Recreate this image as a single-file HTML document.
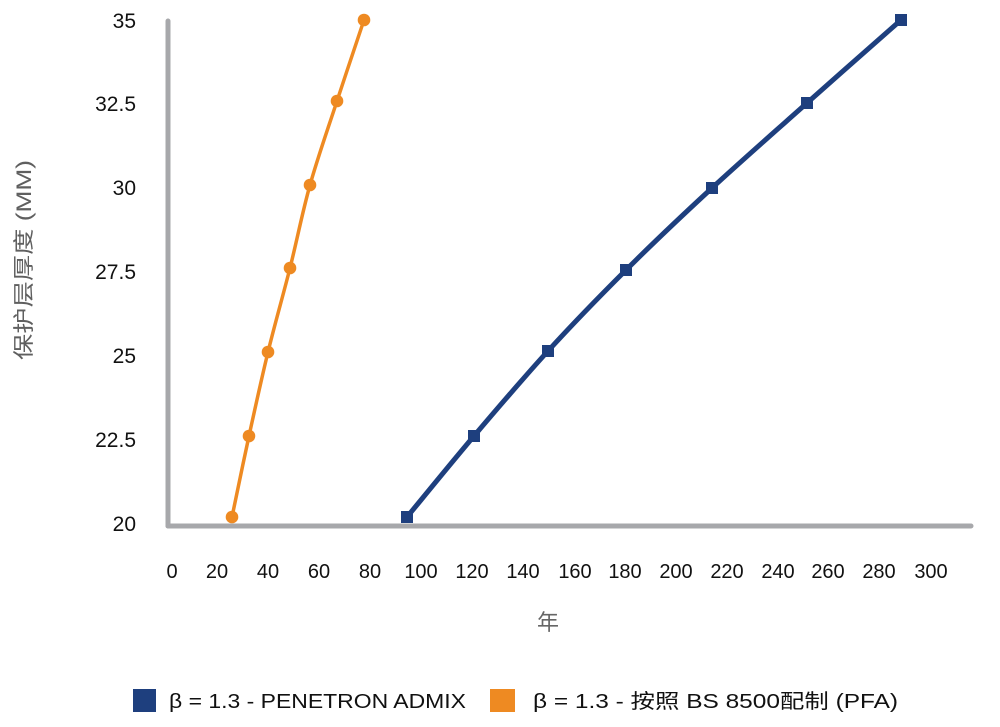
<!DOCTYPE html>
<html>
<head>
<meta charset="utf-8">
<style>
  html,body{margin:0;padding:0;background:#fff;}
  svg{display:block;}
  text{font-family:"Liberation Sans","Noto Sans CJK SC",sans-serif;}
</style>
</head>
<body>
<svg width="1000" height="727" viewBox="0 0 1000 727" xmlns="http://www.w3.org/2000/svg">
  <rect width="1000" height="727" fill="#fff"/>

  <!-- axes -->
  <line x1="168" y1="21" x2="168" y2="526" stroke="#a7a8ab" stroke-width="5" stroke-linecap="round"/>
  <line x1="168" y1="526" x2="971" y2="526" stroke="#a7a8ab" stroke-width="5" stroke-linecap="round"/>

  <!-- y tick labels -->
  <g font-size="21" fill="#111" text-anchor="end">
    <text x="136" y="28">35</text>
    <text x="136" y="111">32.5</text>
    <text x="136" y="195">30</text>
    <text x="136" y="279">27.5</text>
    <text x="136" y="363">25</text>
    <text x="136" y="447">22.5</text>
    <text x="136" y="531">20</text>
  </g>

  <!-- x tick labels -->
  <g font-size="20" fill="#111" text-anchor="middle">
    <text x="172" y="578">0</text>
    <text x="217" y="578">20</text>
    <text x="268" y="578">40</text>
    <text x="319" y="578">60</text>
    <text x="370" y="578">80</text>
    <text x="421" y="578">100</text>
    <text x="472" y="578">120</text>
    <text x="523" y="578">140</text>
    <text x="575" y="578">160</text>
    <text x="625" y="578">180</text>
    <text x="676" y="578">200</text>
    <text x="727" y="578">220</text>
    <text x="778" y="578">240</text>
    <text x="828" y="578">260</text>
    <text x="879" y="578">280</text>
    <text x="931" y="578">300</text>
  </g>

  <!-- axis titles -->
  <text x="548" y="630" font-size="22" fill="#666" text-anchor="middle">年</text>
  <text transform="translate(31,260) rotate(-90)" font-size="21" fill="#5f5f5f" text-anchor="middle" textLength="200" lengthAdjust="spacingAndGlyphs">保护层厚度 (MM)</text>

  <!-- orange series -->
  <path d="M232,517 C234.8,503.5 243,463.5 249,436 C255,408.5 261.2,380 268,352 C274.8,324 283,295.8 290,268 C297,240.2 302.2,212.8 310,185 C317.8,157.2 328,128.5 337,101 C346,73.5 359.5,33.5 364,20"
        fill="none" stroke="#ee8a22" stroke-width="3.5" stroke-linejoin="round"/>
  <g fill="#ee8a22">
    <circle cx="232" cy="517" r="6.3"/>
    <circle cx="249" cy="436" r="6.3"/>
    <circle cx="268" cy="352" r="6.3"/>
    <circle cx="290" cy="268" r="6.3"/>
    <circle cx="310" cy="185" r="6.3"/>
    <circle cx="337" cy="101" r="6.3"/>
    <circle cx="364" cy="20" r="6.3"/>
  </g>

  <!-- blue series -->
  <path d="M407,517 C418.2,503.5 450.5,463.7 474,436 C497.5,408.3 522.7,378.7 548,351 C573.3,323.3 598.7,297.2 626,270 C653.3,242.8 681.8,215.8 712,188 C742.2,160.2 775.5,131 807,103 C838.5,75 885.3,33.8 901,20"
        fill="none" stroke="#1e3f7e" stroke-width="5" stroke-linejoin="round"/>
  <g fill="#1e3f7e">
    <rect x="401" y="511" width="12" height="12"/>
    <rect x="468" y="430" width="12" height="12"/>
    <rect x="542" y="345" width="12" height="12"/>
    <rect x="620" y="264" width="12" height="12"/>
    <rect x="706" y="182" width="12" height="12"/>
    <rect x="801" y="97" width="12" height="12"/>
    <rect x="895" y="14" width="12" height="12"/>
  </g>

  <!-- legend -->
  <rect x="133" y="689" width="23" height="23" fill="#1e3f7e"/>
  <text x="169" y="708" font-size="20" fill="#111" textLength="297" lengthAdjust="spacingAndGlyphs">β = 1.3 - PENETRON ADMIX</text>
  <rect x="490" y="689" width="25" height="23" fill="#ee8a22"/>
  <text x="533" y="708" font-size="20" fill="#111" textLength="365" lengthAdjust="spacingAndGlyphs">β = 1.3 - 按照 BS 8500配制 (PFA)</text>
</svg>
</body>
</html>
